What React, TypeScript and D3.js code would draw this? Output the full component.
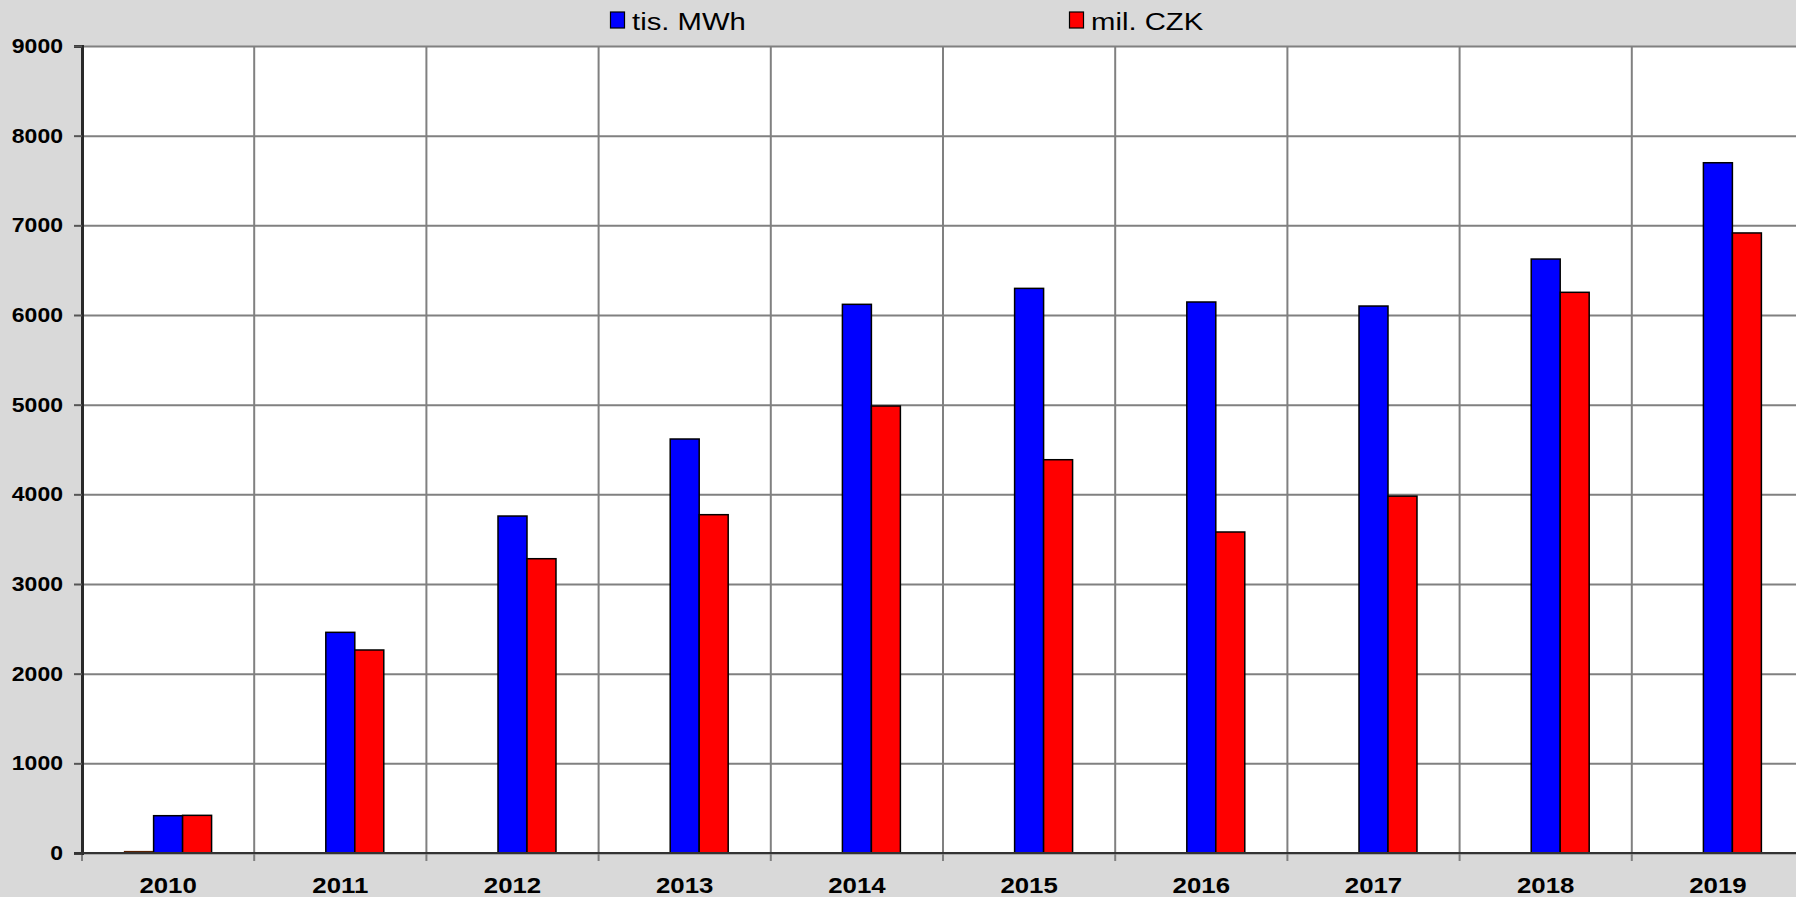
import React, { useEffect, useRef } from "react";
import * as d3 from "d3";

// DATA
const years = ["2010", "2011", "2012", "2013", "2014", "2015", "2016", "2017", "2018", "2019"];
const tisMWh = [416, 2461, 3758, 4617, 6119, 6297, 6145, 6100, 6624, 7698];
const milCZK = [420, 2264, 3282, 3773, 4985, 4386, 3580, 3980, 6253, 6915];
const other = [15, 0, 0, 0, 0, 0, 0, 0, 0, 0];
const yTicks = [0, 1000, 2000, 3000, 4000, 5000, 6000, 7000, 8000, 9000];

const seriesKeys = ["other", "mwh", "czk"];
const seriesColor: Record<string, string> = { other: "#993300", mwh: "#0000FF", czk: "#FF0000" };
const legendItems = [
  { key: "mwh", label: "tis. MWh" },
  { key: "czk", label: "mil. CZK" },
];

export default function App() {
  const ref = useRef<SVGSVGElement | null>(null);

  useEffect(() => {
    if (!ref.current) return;
    const W = 1796;
    const H = 897;
    const left = 82;
    const top = 46;
    const bottom = 853;
    const step = 172.2;
    const font = "'Liberation Sans', Arial, sans-serif";

    const svg = d3.select(ref.current);
    svg.selectAll("*").remove();

    // BACKGROUND
    svg.append("rect").attr("width", W).attr("height", H).attr("fill", "#D9D9D9");

    // SCALES
    const x = d3
      .scaleBand()
      .domain(years)
      .range([left, left + step * years.length])
      .paddingInner(0)
      .paddingOuter(0);
    const xSub = d3
      .scaleBand()
      .domain(seriesKeys)
      .range([0, x.bandwidth()])
      .paddingInner(0)
      .paddingOuter(1.47);
    const y = d3.scaleLinear().domain([0, 9000]).range([bottom, top]);

    const plotRight = left + step * years.length;

    // PLOT AREA
    svg
      .append("rect")
      .attr("x", left)
      .attr("y", top)
      .attr("width", plotRight - left)
      .attr("height", bottom - top)
      .attr("fill", "#FFFFFF");

    // Y GRID
    svg
      .append("g")
      .attr("transform", `translate(${left},0)`)
      .call(d3.axisLeft(y).tickValues(yTicks).tickSize(-(plotRight - left)).tickFormat(() => ""))
      .call((g) => g.select(".domain").remove())
      .call((g) => g.selectAll("line").attr("stroke", "#808080").attr("stroke-width", 2));

    // X GRID (category boundaries)
    const bounds = years.map((d) => x(d) as number).concat([plotRight]);
    svg
      .append("g")
      .selectAll("line")
      .data(bounds)
      .join("line")
      .attr("x1", (d) => d)
      .attr("x2", (d) => d)
      .attr("y1", top)
      .attr("y2", bottom + 8)
      .attr("stroke", "#808080")
      .attr("stroke-width", 2);

    // BARS
    const rows = years.map((yr, i) => ({
      year: yr,
      values: [
        { key: "other", value: other[i] },
        { key: "mwh", value: tisMWh[i] },
        { key: "czk", value: milCZK[i] },
      ],
    }));

    svg
      .append("g")
      .selectAll("g")
      .data(rows)
      .join("g")
      .attr("transform", (d) => `translate(${x(d.year)},0)`)
      .selectAll("rect")
      .data((d) => d.values.filter((v) => v.value > 0))
      .join("rect")
      .attr("x", (d) => xSub(d.key) as number)
      .attr("y", (d) => y(d.value))
      .attr("width", xSub.bandwidth())
      .attr("height", (d) => bottom - y(d.value))
      .attr("fill", (d) => seriesColor[d.key])
      .attr("stroke", (d) => (d.key === "other" ? "#5a2000" : "#000000"))
      .attr("stroke-width", 1.5);

    // Y AXIS
    svg
      .append("g")
      .attr("transform", `translate(${left},0)`)
      .call(d3.axisLeft(y).tickValues(yTicks).tickSize(8).tickFormat(() => ""))
      .call((g) => g.select(".domain").attr("stroke", "#2a2a2a").attr("stroke-width", 3))
      .call((g) => g.selectAll("line").attr("stroke", "#555555").attr("stroke-width", 2));

    svg
      .append("g")
      .selectAll("text")
      .data(yTicks)
      .join("text")
      .attr("transform", (d) => `translate(63,${y(d) + 7}) scale(1.18,1)`)
      .attr("text-anchor", "end")
      .attr("font-family", font)
      .attr("font-weight", "bold")
      .attr("font-size", 19.5)
      .attr("fill", "#000000")
      .text((d) => d3.format("d")(d));

    // X AXIS
    svg
      .append("line")
      .attr("x1", left - 8)
      .attr("x2", plotRight)
      .attr("y1", bottom)
      .attr("y2", bottom)
      .attr("stroke", "#333333")
      .attr("stroke-width", 2);

    svg
      .append("g")
      .selectAll("text")
      .data(years)
      .join("text")
      .attr("transform", (d) => `translate(${(x(d) as number) + x.bandwidth() / 2},893) scale(1.2,1)`)
      .attr("text-anchor", "middle")
      .attr("font-family", font)
      .attr("font-weight", "bold")
      .attr("font-size", 21.5)
      .attr("fill", "#000000")
      .text((d) => d);

    // LEGEND
    const legendX = [610, 1069];
    const lg = svg
      .append("g")
      .selectAll("g")
      .data(legendItems)
      .join("g")
      .attr("transform", (d, i) => `translate(${legendX[i]},0)`);
    lg.append("rect")
      .attr("x", 0.5)
      .attr("y", 12)
      .attr("width", 14)
      .attr("height", 16)
      .attr("fill", (d) => seriesColor[d.key])
      .attr("stroke", "#000000")
      .attr("stroke-width", 1.2);
    lg.append("text")
      .attr("transform", "translate(22,30) scale(1.22,1)")
      .attr("font-family", font)
      .attr("font-size", 24)
      .attr("fill", "#000000")
      .text((d) => d.label);
  }, []);

  return (
    <svg
      ref={ref}
      width={1796}
      height={897}
      style={{ position: "absolute", left: 0, top: 0, display: "block" }}
    />
  );
}
